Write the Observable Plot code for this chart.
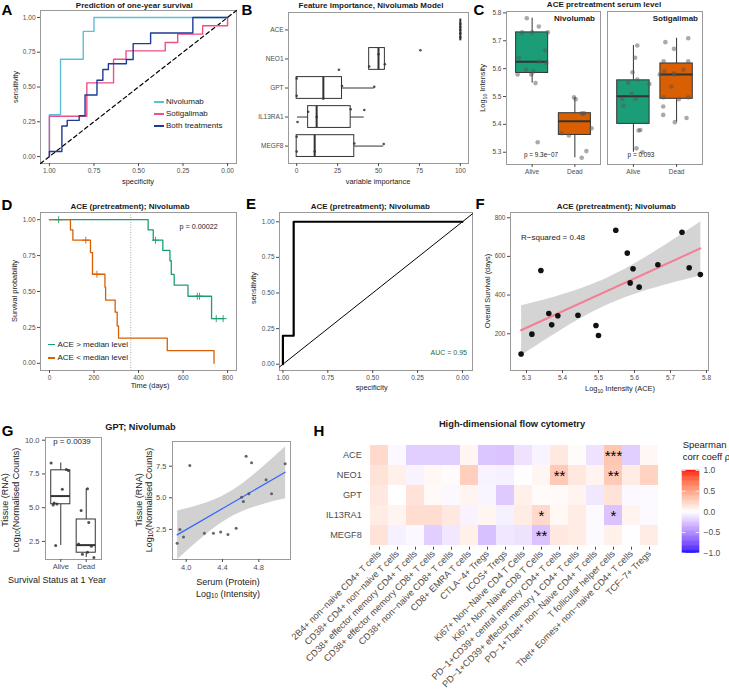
<!DOCTYPE html>
<html>
<head>
<meta charset="utf-8">
<script src="https://cdn.jsdelivr.net/npm/d3@7"></script>
<script src="https://cdn.jsdelivr.net/npm/@observablehq/plot@0.6"></script>
<style>
  body { margin: 0; background: #fff; }
  #fig { position: relative; width: 729px; height: 696px; overflow: hidden;
         font-family: "Liberation Sans", Arial, Helvetica, sans-serif; }
  #fig svg { position: absolute; }
  .t { position: absolute; white-space: nowrap; line-height: 1; }
  .t sub { font-size: 0.7em; vertical-align: -0.3em; line-height: 0; }
  .sw { position: absolute; }
</style>
</head>
<body>
<div id="fig"></div>
<script>
// ---------------- data ----------------
// A: ROC curves (specificity, sensitivity corners)
const rocGroups = ["Nivolumab", "Sotigalimab", "Both treatments"];
const rocColors = ["#5BBFDB", "#EE4E8B", "#1F3B94"];
const rocNivoSpec = [1, 0.9375, 0.81, 0.75, 0];
const rocNivoSens = [0, 0.30, 0.70, 0.90, 1];
const rocSotiSpec = [1, 0.79, 0.64, 0.57, 0.35, 0.28, 0.14, 0, 0];
const rocSotiSens = [0, 0.29, 0.53, 0.70, 0.76, 0.82, 0.88, 0.94, 1];
const rocBothSpec = [1, 0.93, 0.90, 0.833, 0.80, 0.733, 0.70, 0.669, 0.568, 0.53, 0.432, 0.195, 0];
const rocBothSens = [0, 0.036, 0.22, 0.26, 0.293, 0.443, 0.548, 0.626, 0.667, 0.698, 0.812, 0.888, 1];

// B: variable importance per resample
const featNames = ["ACE", "NEO1", "GPT", "IL13RA1", "MEGF8"];
const featImportance = [
  [100, 100, 100, 100, 100],
  [25.8, 44.3, 50, 53.9, 75.6],
  [0, 0, 16.3, 27.7, 47.4],
  [0.5, 7, 12.2, 33, 41.3],
  [0, 0, 11, 35.2, 53.2]
];
const featJitter = [
  [-0.2, -0.1, 0, 0.12, 0.25],
  [0.37, 0.26, -0.16, 0.18, -0.3],
  [-0.33, 0.27, 0.37, -0.07, -0.04],
  [0.17, -0.18, 0, -0.27, -0.24],
  [-0.32, 0.19, 0.19, -0.09, -0.07]
];

// C: ACE serum level by outcome
const outcomes = ["Alive", "Dead"];
const aceNivoAlive = [5.781, 5.751, 5.730, 5.730, 5.730, 5.665, 5.639, 5.625, 5.620, 5.596, 5.590, 5.579, 5.579, 5.548, 5.336];
const aceNivoAliveJit = [-0.125, 0.156, -0.234, 0, 0.367, 0.305, -0.31, 0.17, 0.33, -0.14, 0.03, -0.02, -0.34, 0.08, 0.13];
const aceNivoDead = [5.497, 5.49, 5.44, 5.44, 5.437, 5.386, 5.368, 5.36, 5.304, 5.28];
const aceNivoDeadJit = [-0.02, 0.02, 0.16, 0.22, 0.19, 0.39, -0.31, -0.14, 0.27, 0.16];
const aceSotiAlive = [5.683, 5.639, 5.587, 5.561, 5.549, 5.545, 5.51, 5.492, 5.49, 5.467, 5.38, 5.378, 5.314, 5.30];
const aceSotiAliveJit = [0.09, 0.04, -0.02, 0.09, -0.12, 0.37, -0.04, 0.05, -0.26, -0.23, 0.16, 0.12, 0.07, 0.21];
const aceSotiDead = [5.709, 5.695, 5.671, 5.626, 5.626, 5.596, 5.59, 5.583, 5.579, 5.579, 5.536, 5.497, 5.497, 5.49, 5.464, 5.434, 5.423, 5.408];
const aceSotiDeadJit = [0.27, -0.26, -0.06, -0.3, 0.27, 0.16, -0.28, -0.06, -0.05, -0.39, -0.12, -0.3, 0.27, 0.05, -0.31, -0.31, 0.23, -0.04];

// D: Kaplan-Meier curves
const kmHighTime = [0, 443, 466, 509, 541, 547, 560, 622, 728, 783];
const kmHighSurv = [1, 0.929, 0.857, 0.786, 0.714, 0.619, 0.545, 0.467, 0.311, 0.311];
const kmHighCensor = [41, 476, 664, 674, 749, 780];
const kmLowTime = [0, 94, 105, 184, 193, 249, 252, 295, 304, 310, 529, 739];
const kmLowSurv = [1, 0.929, 0.857, 0.771, 0.62, 0.53, 0.44, 0.356, 0.26, 0.176, 0.088, 0];
const kmLowCensor = [163, 213];
const oneYear = 365;

// E: ROC for ACE
const rocAceSpec = [1, 0.94, 0];
const rocAceSens = [0, 0.2, 1];

// F: ACE vs overall survival
const osAce = [5.34, 5.548, 5.58, 5.596, 5.588, 5.613, 5.665, 5.732, 5.752, 5.783, 5.362, 5.387, 5.370, 5.443, 5.493, 5.50, 5.285, 5.315];
const osDays = [527, 735, 617, 536, 463, 441, 557, 725, 541, 506, 305, 293, 246, 296, 243, 191, 95, 198];

// G: GPT tissue RNA
const gptAlive = [8.31, 7.82, 7.75, 6.37, 5.35, 5.27, 5.2, 2.2];
const gptAliveJit = [-0.38, 0.22, 0.3, 0.06, -0.26, -0.15, -0.3, -0.2];
const gptDead = [6.41, 4.8, 3.9, 2.3, 2.15, 1.7, 1.55, 1.3];
const gptDeadJit = [0.05, -0.2, 0.1, -0.3, 0.2, 0.05, -0.15, 0.3];
const gptSerum = [4.04, 4.66, 4.72, 5.09, 4.88, 4.94, 4.69, 4.61, 4.63, 3.9, 3.93, 3.97, 4.2, 4.3, 4.38, 4.46, 4.55];
const gptTissue = [7.56, 8.29, 7.77, 7.69, 6.42, 5.32, 5.32, 5.05, 4.7, 1.4, 2.5, 1.9, 2.2, 2.2, 2.3, 2.1, 2.6];

// H: Spearman correlations with flow cytometry populations
const flowMarkers = ["ACE", "NEO1", "GPT", "IL13RA1", "MEGF8"];
const flowPops = [
  "2B4+ non\u2212naive CD4+ T cells",
  "CD38+ CD4+ non\u2212naive T cells",
  "CD38+ effector memory CD4+ T cells",
  "CD38+ effector memory CD8+ T cells",
  "CD38+ non\u2212naive CD8+ T cells",
  "CD8+ EMRA T cells",
  "CTLA\u22124+ Tregs",
  "ICOS+ Tregs",
  "Ki67+ Non\u2212Naive CD4 T Cells",
  "Ki67+ Non\u2212Naive CD8 T Cells",
  "PD\u22121+CD39+ central memory CD4+ T cells",
  "PD\u22121+CD39+ effector memory 1 CD4+ T cells",
  "PD\u22121+Tbet+ non\u2212Naive CD4+ T cells",
  "T follicular helper cells",
  "Tbet+ Eomes+ non\u2212naive CD4+ T cells",
  "TCF\u22127+ Tregs"
];
const flowRho = [
  [0.20, -0.03, -0.20, -0.20, -0.20, 0.05, -0.24, -0.25, -0.12, -0.05, 0.12, 0.02, -0.12, 0.30, -0.20, 0.04],
  [0.15, 0.08, -0.05, 0.04, 0.02, 0.26, -0.05, -0.06, -0.01, 0.05, 0.28, 0.12, 0.06, 0.28, 0.10, 0.24],
  [0.12, 0.00, 0.15, 0.03, -0.03, 0.06, -0.04, -0.22, 0.08, 0.02, 0.03, 0.06, -0.10, 0.15, -0.03, -0.02],
  [0.10, 0.06, 0.18, 0.18, 0.12, -0.05, 0.05, -0.06, 0.10, 0.20, 0.04, 0.10, -0.02, -0.25, 0.06, -0.02],
  [0.15, -0.06, -0.03, -0.20, -0.10, 0.08, -0.26, -0.10, -0.12, -0.25, 0.12, 0.10, -0.02, 0.08, -0.01, 0.10]
];
const flowStars = [
  ["", "", "", "", "", "", "", "", "", "", "", "", "", "***", "", ""],
  ["", "", "", "", "", "", "", "", "", "", "**", "", "", "**", "", ""],
  ["", "", "", "", "", "", "", "", "", "", "", "", "", "", "", ""],
  ["", "", "", "", "", "", "", "", "", "*", "", "", "", "*", "", ""],
  ["", "", "", "", "", "", "", "", "", "**", "", "", "", "", "", ""]
];
const rhoTicks = [-1, -0.5, 0, 0.5, 1];

// ---------------- helpers ----------------
const FONT = '"Liberation Sans", Arial, Helvetica, sans-serif';
const fig = document.getElementById("fig");
const GREEN = "#1B9E77", ORANGE = "#D95F02", FRAME = "#9a9a9a";

function place(svg, left, top) {
  svg.style.left = left + "px";
  svg.style.top = top + "px";
  fig.appendChild(svg);
}
function mk(o) {
  const {fs = 6.5, ...rest} = o;
  return Plot.plot({
    ...rest,
    style: {fontFamily: FONT, fontSize: fs + "px", color: "#4d4d4d", background: "transparent", overflow: "visible"}
  });
}
function T(s, x, y, o = {}) {
  const d = document.createElement("div");
  d.className = "t";
  d.innerHTML = s;
  d.style.fontSize = (o.size || 8) + "px";
  d.style.fontWeight = o.bold ? "700" : "400";
  d.style.color = o.color || "#1a1a1a";
  d.style.left = x + "px";
  d.style.top = y + "px";
  const ax = o.anchor === "start" ? "0" : o.anchor === "end" ? "-100%" : "-50%";
  d.style.transform = `translate(${ax},-50%)` + (o.rotate ? ` rotate(${o.rotate}deg)` : "");
  fig.appendChild(d);
}
function swatch(x1, x2, y, color, w = 1.5) {
  const d = document.createElement("div");
  d.className = "sw";
  Object.assign(d.style, {left: x1 + "px", top: (y - w / 2) + "px", width: (x2 - x1) + "px", height: w + "px", background: color});
  fig.appendChild(d);
}
function boxStats(values) {
  const s = values.slice().sort(d3.ascending);
  const q1 = d3.quantile(s, 0.25), med = d3.quantile(s, 0.5), q3 = d3.quantile(s, 0.75), iqr = q3 - q1;
  return {q1, med, q3,
    lo: d3.min(s.filter(v => v >= q1 - 1.5 * iqr)),
    hi: d3.max(s.filter(v => v <= q3 + 1.5 * iqr))};
}
// vertical box (x = group position, y = value)
function vBox(values, pos, fill, half = 0.375) {
  const r = [{...boxStats(values), pos}];
  return [
    Plot.ruleX(r, {x: "pos", y1: "q3", y2: "hi", stroke: "#333", strokeWidth: 1}),
    Plot.ruleX(r, {x: "pos", y1: "lo", y2: "q1", stroke: "#333", strokeWidth: 1}),
    Plot.rect(r, {x1: d => d.pos - half, x2: d => d.pos + half, y1: "q1", y2: "q3", fill, stroke: "#333", strokeWidth: 1}),
    Plot.ruleY(r, {y: "med", x1: d => d.pos - half, x2: d => d.pos + half, stroke: "#333", strokeWidth: 2})
  ];
}
function jitter(values, jit, pos) {
  return values.map((v, i) => ({x: pos + jit[i], v}));
}
const f2 = d3.format(".2f"), f1 = d3.format(".1f");

// ---------------- A: ROC, one-year survival ----------------
{
  const specs = [rocNivoSpec, rocSotiSpec, rocBothSpec], sens = [rocNivoSens, rocSotiSens, rocBothSens];
  const xd = [1.05, -0.05];
  const diag = xd.map(s => ({spec: s, sens: 1 - s}));
  const marks = [
    Plot.frame({stroke: FRAME}),
    Plot.axisX({ticks: [1, 0.75, 0.5, 0.25, 0], tickFormat: f2, tickSize: 3, tickPadding: 2, label: null}),
    Plot.axisY({ticks: [0, 0.25, 0.5, 0.75, 1], tickFormat: f2, tickSize: 3, tickPadding: 2, label: null}),
    Plot.line(diag, {x: "spec", y: "sens", stroke: "#000", strokeWidth: 1.2, strokeDasharray: "4,3"})
  ];
  rocGroups.forEach((g, k) => {
    const rows = specs[k].map((s, i) => ({spec: s, sens: sens[k][i]}));
    marks.push(Plot.line(rows, {x: "spec", y: "sens", stroke: rocColors[k], strokeWidth: 1.4, curve: "step-before"}));
  });
  place(mk({width: 240, height: 185, marginLeft: 40, marginRight: 4, marginTop: 10, marginBottom: 22,
    x: {domain: xd}, y: {domain: [-0.05, 1.05]}, marks}), 0, 0);
  [102, 113.5, 125.5].forEach((y, k) => {
    swatch(154, 163.5, y, rocColors[k], 2);
    T(rocGroups[k], 166, y, {anchor: "start", size: 8});
  });
}

// ---------------- B: feature importance ----------------
{
  const rows = featNames.map((name, i) => ({name, pos: i + 1, ...boxStats(featImportance[i])}));
  const pts = featNames.flatMap((name, i) => featImportance[i].map((v, j) => ({v, y: i + 1 + featJitter[i][j]})));
  const h = 0.375;
  place(mk({width: 235, height: 185, marginLeft: 48, marginRight: 7, marginTop: 12, marginBottom: 22,
    x: {domain: [-5, 105]}, y: {domain: [5.6, 0.4]},
    marks: [
      Plot.frame({stroke: FRAME}),
      Plot.axisX({ticks: [0, 25, 50, 75, 100], tickSize: 3, tickPadding: 2, label: null}),
      Plot.axisY({ticks: [1, 2, 3, 4, 5], tickFormat: i => featNames[i - 1], tickSize: 3, tickPadding: 2, label: null}),
      Plot.ruleY(rows, {y: "pos", x1: "lo", x2: "q1", stroke: "#333"}),
      Plot.ruleY(rows, {y: "pos", x1: "q3", x2: "hi", stroke: "#333"}),
      Plot.rect(rows, {x1: "q1", x2: "q3", y1: d => d.pos - h, y2: d => d.pos + h, fill: "white", stroke: "#333", strokeWidth: 1}),
      Plot.ruleX(rows, {x: "med", y1: d => d.pos - h, y2: d => d.pos + h, stroke: "#333", strokeWidth: 2}),
      Plot.dot(pts, {x: "v", y: "y", r: 1.3, fill: "#333", fillOpacity: 0.85})
    ]}), 240, 0);
}

// ---------------- C: ACE pretreatment serum level ----------------
{
  const yd = [5.256, 5.805];
  const dotOpts = {x: "x", y: "v", r: 2.3, fill: "#555", fillOpacity: 0.5};
  const xAxis = Plot.axisX({ticks: [1, 2], tickFormat: i => outcomes[i - 1], tickSize: 3, tickPadding: 2, label: null});
  place(mk({width: 115, height: 185, marginLeft: 21, marginRight: 0, marginTop: 11, marginBottom: 21,
    x: {domain: [0.4, 2.6]}, y: {domain: yd},
    marks: [
      Plot.frame({stroke: FRAME}),
      xAxis,
      Plot.axisY({ticks: [5.3, 5.4, 5.5, 5.6, 5.7, 5.8], tickFormat: f1, tickSize: 3, tickPadding: 2, label: null}),
      ...vBox(aceNivoAlive, 1, GREEN), ...vBox(aceNivoDead, 2, ORANGE),
      Plot.dot(jitter(aceNivoAlive, aceNivoAliveJit, 1), dotOpts),
      Plot.dot(jitter(aceNivoDead, aceNivoDeadJit, 2), dotOpts)
    ]}), 485, 0);
  place(mk({width: 95, height: 185, marginLeft: 0, marginRight: 0, marginTop: 11, marginBottom: 21,
    x: {domain: [0.4, 2.6]}, y: {domain: yd, axis: null},
    marks: [
      Plot.frame({stroke: FRAME}),
      xAxis,
      ...vBox(aceSotiAlive, 1, GREEN), ...vBox(aceSotiDead, 2, ORANGE),
      Plot.dot(jitter(aceSotiAlive, aceSotiAliveJit, 1), dotOpts),
      Plot.dot(jitter(aceSotiDead, aceSotiDeadJit, 2), dotOpts)
    ]}), 607, 0);
  T("Nivolumab", 595, 19, {anchor: "end", bold: true, size: 8});
  T("Sotigalimab", 698, 19, {anchor: "end", bold: true, size: 8});
  T("p = 9.3e\u221207", 541, 155, {size: 6.4});
  T("p = 0.093", 641, 155, {size: 6.4});
}

// ---------------- D: Kaplan-Meier ----------------
{
  const curve = (times, surv) => times.map((t, i) => ({t, s: surv[i]}));
  const censor = (times, surv, cs) => cs.map(t => ({t, s: surv[d3.bisectRight(times, t) - 1]}));
  place(mk({width: 240, height: 210, marginLeft: 40, marginRight: 4, marginTop: 22, marginBottom: 30,
    x: {domain: [-40.5, 840]}, y: {domain: [-0.05, 1.05]},
    marks: [
      Plot.frame({stroke: FRAME}),
      Plot.axisX({ticks: [0, 200, 400, 600, 800], tickSize: 3, tickPadding: 2, label: null}),
      Plot.axisY({ticks: [0, 0.25, 0.5, 0.75, 1], tickFormat: f2, tickSize: 3, tickPadding: 2, label: null}),
      Plot.ruleX([oneYear], {stroke: "#999", strokeWidth: 0.8, strokeDasharray: "1,1.5"}),
      Plot.line(curve(kmHighTime, kmHighSurv), {x: "t", y: "s", curve: "step-after", stroke: GREEN, strokeWidth: 1.3}),
      Plot.line(curve(kmLowTime, kmLowSurv), {x: "t", y: "s", curve: "step-after", stroke: ORANGE, strokeWidth: 1.3}),
      Plot.dot(censor(kmHighTime, kmHighSurv, kmHighCensor), {x: "t", y: "s", symbol: "plus", r: 2.4, stroke: GREEN, strokeWidth: 0.9}),
      Plot.dot(censor(kmLowTime, kmLowSurv, kmLowCensor), {x: "t", y: "s", symbol: "plus", r: 2.4, stroke: ORANGE, strokeWidth: 0.9})
    ]}), 0, 190);
  swatch(48, 54.5, 344.7, GREEN, 1.4);
  swatch(48, 54.5, 358, ORANGE, 1.4);
  T("ACE &gt; median level", 57.5, 344.7, {anchor: "start", size: 8});
  T("ACE &lt; median level", 57.5, 358, {anchor: "start", size: 8});
  T("p = 0.00022", 198.7, 226.7, {size: 7.2});
}

// ---------------- E: ROC for ACE ----------------
{
  const xd = [1.019, -0.056];
  const rows = rocAceSpec.map((s, i) => ({spec: s, sens: rocAceSens[i]}));
  const diag = xd.map(s => ({spec: s, sens: 1 - s}));
  place(mk({width: 240, height: 210, marginLeft: 39, marginRight: 8, marginTop: 22, marginBottom: 30,
    x: {domain: xd}, y: {domain: [-0.044, 1.065]},
    marks: [
      Plot.frame({stroke: FRAME}),
      Plot.axisX({ticks: [1, 0.75, 0.5, 0.25, 0], tickFormat: f2, tickSize: 3, tickPadding: 2, label: null}),
      Plot.axisY({ticks: [0, 0.25, 0.5, 0.75, 1], tickFormat: f2, tickSize: 3, tickPadding: 2, label: null}),
      Plot.line(diag, {x: "spec", y: "sens", stroke: "#000", strokeWidth: 1}),
      Plot.line(rows, {x: "spec", y: "sens", curve: "step-before", stroke: "#000", strokeWidth: 2.2})
    ]}), 240, 190);
  T("AUC = 0.95", 467, 352, {anchor: "end", size: 7, color: "#1e6b45"});
}

// ---------------- F: ACE vs overall survival ----------------
{
  const rows = osAce.map((a, i) => ({ace: a, os: osDays[i]}));
  place(mk({width: 244, height: 210, marginLeft: 25, marginRight: 21, marginTop: 22, marginBottom: 30,
    x: {domain: [5.2556, 5.8056]}, y: {domain: [10, 827]},
    marks: [
      Plot.frame({stroke: FRAME}),
      Plot.axisX({ticks: [5.3, 5.4, 5.5, 5.6, 5.7, 5.8], tickFormat: f1, tickSize: 3, tickPadding: 2, label: null}),
      Plot.axisY({ticks: [200, 400, 600, 800], tickSize: 3, tickPadding: 2, label: null}),
      Plot.linearRegressionY(rows, {x: "ace", y: "os", stroke: "#F47F94", strokeWidth: 2, fill: "#bdbdbd", fillOpacity: 0.65}),
      Plot.dot(rows, {x: "ace", y: "os", r: 2.8, fill: "#111"})
    ]}), 485, 190);
  T("R\u2212squared = 0.48", 521, 237.7, {anchor: "start", size: 8});
}

// ---------------- G: GPT tissue vs outcome and serum ----------------
{
  const dotOpts = {x: "x", y: "v", r: 1.5, fill: "#333", fillOpacity: 0.85};
  place(mk({fs: 7.5, width: 110, height: 160, marginLeft: 45, marginRight: 9, marginTop: 17, marginBottom: 21,
    x: {domain: [0.4, 2.6]}, y: {domain: [1.16, 10.2]},
    marks: [
      Plot.frame({stroke: FRAME}),
      Plot.axisX({ticks: [1, 2], tickFormat: i => outcomes[i - 1], tickSize: 3, tickPadding: 1.5, label: null}),
      Plot.axisY({ticks: [2.5, 5, 7.5, 10], tickFormat: f1, tickSize: 3, tickPadding: 3, label: null}),
      ...vBox(gptAlive, 1, "white"), ...vBox(gptDead, 2, "white"),
      Plot.dot(jitter(gptAlive, gptAliveJit, 1), dotOpts),
      Plot.dot(jitter(gptDead, gptDeadJit, 2), dotOpts)
    ]}), 0, 420);
  const rows = gptSerum.map((s, i) => ({serum: s, tissue: gptTissue[i]}));
  place(mk({fs: 7.5, width: 180, height: 160, marginLeft: 52, marginRight: 10, marginTop: 21, marginBottom: 21,
    x: {domain: [3.849, 5.149]}, y: {domain: [0.12, 9.45]},
    marks: [
      Plot.frame({stroke: FRAME}),
      Plot.axisX({ticks: [4.0, 4.4, 4.8], tickFormat: f1, tickSize: 3, tickPadding: 2, label: null}),
      Plot.axisY({ticks: [2.5, 5, 7.5], tickFormat: f1, tickSize: 3, tickPadding: 3, label: null}),
      Plot.linearRegressionY(rows, {x: "serum", y: "tissue", stroke: "#3366FF", strokeWidth: 1.2, fill: "#999", fillOpacity: 0.45}),
      Plot.dot(rows, {x: "serum", y: "tissue", r: 1.5, fill: "#555", fillOpacity: 0.9})
    ]}), 120, 420);
  T("p = 0.0039", 72, 441.7, {size: 7.9});
  T("Tissue (RNA)", 5, 500, {rotate: -90, size: 9});
  T("Log<sub>10</sub>(Normalised Counts)", 15.5, 500, {rotate: -90, size: 9});
  T("Survival Status at 1 Year", 57, 580, {size: 9});
  T("Tissue (RNA)", 139, 500, {rotate: -90, size: 9});
  T("Log<sub>10</sub>(Normalised Counts)", 149, 500, {rotate: -90, size: 9});
  T("Serum (Protein)", 228, 582, {size: 9});
  T("Log<sub>10</sub> (Intensity)", 228, 593.5, {size: 9});
}

// ---------------- H: flow cytometry correlation heatmap ----------------
{
  const colorScale = {type: "linear", domain: [-1, 0, 1], range: ["#0000FF", "#FFFFFF", "#FF0000"], interpolate: "lab"};
  const rows = flowMarkers.flatMap((m, i) => flowPops.map((p, j) => ({m, p, rho: flowRho[i][j], star: flowStars[i][j]})));
  place(mk({fs: 9.2, width: 380, height: 276, marginLeft: 68.3, marginRight: 19.7, marginTop: 23.3, marginBottom: 149.3,
    x: {type: "band", domain: flowPops, padding: 0},
    y: {type: "band", domain: flowMarkers, padding: 0},
    color: colorScale,
    marks: [
      Plot.cell(rows, {x: "p", y: "m", fill: "rho", inset: 0}),
      Plot.text(rows.filter(d => d.star), {x: "p", y: "m", text: "star", fontSize: 15, fill: "#000", dy: 1}),
      Plot.axisX({anchor: "bottom", tickRotate: -45, tickSize: 3, tickPadding: 2, label: null}),
      Plot.axisY({tickSize: 0, tickPadding: 7, label: null})
    ]}), 300, 420);

  // colour bar
  const step = 0.02;
  const bar = d3.range(-1, 1 - step / 2, step).map(v => ({v0: v, v1: v + step, c: v + step / 2}));
  place(mk({fs: 8.5, width: 59, height: 103, marginLeft: 12, marginRight: 30, marginTop: 10, marginBottom: 10.3,
    x: {domain: [0, 1], axis: null}, y: {domain: [-1, 1]},
    color: colorScale,
    marks: [
      Plot.rect(bar, {x1: 0, x2: 1, y1: "v0", y2: "v1", fill: "c", stroke: "c", strokeWidth: 0.4}),
      Plot.ruleY(rhoTicks, {x1: 0, x2: 0.2, stroke: "white", strokeWidth: 0.8}),
      Plot.ruleY(rhoTicks, {x1: 0.8, x2: 1, stroke: "white", strokeWidth: 0.8}),
      Plot.axisY({anchor: "right", ticks: rhoTicks, tickFormat: f1, tickSize: 0, tickPadding: 4, label: null})
    ]}), 670, 460);
  T("Spearman", 682.7, 445, {anchor: "start", size: 9.5});
  T("corr coeff \u03c1", 682.7, 457, {anchor: "start", size: 9.5});
}

// ---------------- titles, panel letters, axis titles ----------------
T("Prediction of one-year survival", 134.3, 6, {bold: true, size: 8});
T("Feature importance, Nivolumab Model", 371, 6, {bold: true, size: 8});
T("ACE pretreatment serum level", 604, 5, {bold: true, size: 8});
T("ACE (pretreatment); Nivolumab", 130, 207, {bold: true, size: 8});
T("ACE (pretreatment); Nivolumab", 370.3, 207, {bold: true, size: 8});
T("ACE (pretreatment); Nivolumab", 616.3, 207, {bold: true, size: 8});
T("GPT; Nivolumab", 140.5, 428, {bold: true, size: 9.2});
T("High-dimensional flow cytometry", 512, 425, {bold: true, size: 9.3});

[["A", 7, 9], ["B", 247, 8.5], ["C", 479, 8.5], ["D", 7, 203.5], ["E", 251, 203], ["F", 480, 203], ["G", 7.5, 430], ["H", 319, 430]]
  .forEach(([s, x, y]) => T(s, x, y, {bold: true, size: 15, color: "#000"}));

T("specificity", 138, 182, {size: 7.4});
T("sensitivity", 15.5, 87, {size: 7.4, rotate: -90});
T("variable importance", 378, 182, {size: 7.4});
T("Log<sub>10</sub> Intensity", 483.3, 88, {size: 7.4, rotate: -90});
T("Time (days)", 150, 386, {size: 7.4});
T("Survival probability", 15, 291, {size: 7.4, rotate: -90});
T("sensitivity", 254, 288, {size: 7.4, rotate: -90});
T("specificity", 371.7, 388.3, {size: 7.4});
T("Overall Survival (days)", 488, 291, {size: 7.4, rotate: -90});
T("Log<sub>10</sub> Intensity (ACE)", 620, 389, {size: 7.4});
</script>
</body>
</html>
